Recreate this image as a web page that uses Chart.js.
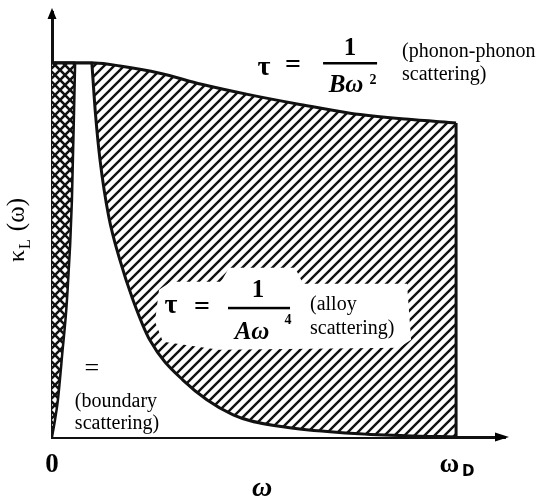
<!DOCTYPE html>
<html lang="en">
<head>
<meta charset="UTF-8">
<title>Spectral lattice thermal conductivity</title>
<script src="https://cdn.jsdelivr.net/npm/chart.js"></script>
<style>
  html, body { margin: 0; padding: 0; background: #fff; }
  #wrap { width: 543px; height: 499px; }
</style>
</head>
<body>
<div id="wrap"><canvas id="kappaChart" width="543" height="499"></canvas></div>
<script>
// omega in % of the drawn axis, kappa_L in % of the axis height
const omegaD = 89.2;
const xTicks = [0, omegaD];
const xTickLabels = ['0', 'ω  '];

// phonon-phonon limited envelope
const ppOmega = [0, 9.5, 15, 23.8, 33, 43.7, 55, 65.8, 78, 89.2];
const ppKappa = [88, 88, 87.3, 85.6, 83, 80.5, 78.2, 76.2, 74.8, 73.9];

// alloy scattering curve
const alloyOmega = [8.8, 9.6, 10.6, 12.5, 15, 17.9, 21.6, 28.9, 40, 51, 65.8, 78, 89.2];
const alloyKappa = [88, 76, 65.2, 52, 41.6, 32.2, 22.8, 13.4, 5.2, 2.4, 0.9, 0.3, 0];

// boundary scattering strip (cross hatched)
const bndOmega = [0, 0.66, 1.3, 2.3, 3.3, 4.4, 5.1];
const bndEdge = [0, 4, 8.7, 20, 32.2, 55.8, 88];

const pts = (xs, ys) => xs.map((x, i) => ({ x: x, y: ys[i] }));

const canvas = document.getElementById('kappaChart');
const ctx = canvas.getContext('2d');

function makeHatch() {
    const c = document.createElement('canvas');
    c.width = 10; c.height = 10;
    const g = c.getContext('2d');
    g.fillStyle = '#fff';
    g.fillRect(0, 0, 10, 10);
    g.strokeStyle = '#111';
    g.lineWidth = 2.4;
    g.beginPath();
    g.moveTo(-3, 13); g.lineTo(13, -3);
    g.moveTo(-3, 3); g.lineTo(3, -3);
    g.moveTo(7, 13); g.lineTo(13, 7);
    g.stroke();
    return ctx.createPattern(c, 'repeat');
}

function makeCross() {
    const c = document.createElement('canvas');
    c.width = 10; c.height = 10;
    const g = c.getContext('2d');
    g.fillStyle = '#fff';
    g.fillRect(0, 0, 10, 10);
    g.strokeStyle = '#111';
    g.lineWidth = 2.6;
    g.beginPath();
    g.moveTo(-3, -3); g.lineTo(13, 13);
    g.moveTo(-3, 13); g.lineTo(13, -3);
    g.stroke();
    return ctx.createPattern(c, 'repeat');
}

const line = { showLine: true, pointRadius: 0, borderColor: '#111', cubicInterpolationMode: 'monotone' };

// labels, axis arrows and the subscripted titles
const notes = {
    id: 'notes',
    afterDatasetsDraw(chart) {
        const X = v => chart.scales.x.getPixelForValue(v);
        const Y = v => chart.scales.y.getPixelForValue(v);
        const c = chart.ctx;
        c.save();
        c.fillStyle = '#000';
        c.textAlign = 'center';
        c.textBaseline = 'middle';

        // white patch behind the alloy formula
        let ax = X(45.7), ay = Y(30.4);
        c.fillStyle = '#fff';
        c.beginPath();
        c.moveTo(ax - 100, ay - 18);
        c.lineTo(ax - 88, ay - 26);
        c.lineTo(ax - 38, ay - 26);
        c.lineTo(ax - 30, ay - 40);
        c.lineTo(ax + 36, ay - 40);
        c.lineTo(ax + 44, ay - 24);
        c.lineTo(ax + 148, ay - 24);
        c.lineTo(ax + 152, ay + 32);
        c.lineTo(ax + 140, ay + 40);
        c.lineTo(ax - 40, ay + 42);
        c.lineTo(ax - 96, ay + 34);
        c.lineTo(ax - 104, ay + 14);
        c.closePath();
        c.fill();
        c.fillStyle = '#000';

        // tau = 1 / (A w^4)
        c.font = 'bold 28px "Liberation Serif"';
        c.fillText('τ', ax - 88, ay - 2);
        c.fillText('=', ax - 57, ay);
        c.fillRect(ax - 31, ay - 1, 62, 2.5);
        c.font = 'bold 25px "Liberation Serif"';
        c.fillText('1', ax - 1, ay - 17);
        c.font = 'bold italic 25px "Liberation Serif"';
        c.fillText('Aω', ax - 7, ay + 25);
        c.font = 'bold 14px "Liberation Serif"';
        c.fillText('4', ax + 29, ay + 13);
        c.font = '20px "Liberation Serif"';
        c.textAlign = 'left';
        c.fillText('(alloy', ax + 51, ay - 3);
        c.fillText('scattering)', ax + 51, ay + 21);

        // tau = 1 / (B w^2)
        let bx = X(65.8), by = Y(88);
        c.textAlign = 'center';
        c.font = 'bold 28px "Liberation Serif"';
        c.fillText('τ', bx - 86, by + 5);
        c.fillText('=', bx - 57, by + 3);
        c.fillRect(bx - 27, by - 1, 54, 2.5);
        c.font = 'bold 25px "Liberation Serif"';
        c.fillText('1', bx, by - 14);
        c.font = 'bold italic 25px "Liberation Serif"';
        c.fillText('Bω', bx - 4, by + 23);
        c.font = 'bold 14px "Liberation Serif"';
        c.fillText('2', bx + 23, by + 17);
        c.font = '20px "Liberation Serif"';
        c.textAlign = 'left';
        c.fillText('(phonon-phonon', bx + 52, by - 11);
        c.fillText('scattering)', bx + 52, by + 12);

        // boundary scattering
        let cx = X(8.8), cy = Y(16);
        c.textAlign = 'center';
        c.font = '26px "Liberation Serif"';
        c.fillText('=', cx, cy);
        c.font = '20px "Liberation Serif"';
        c.textAlign = 'left';
        c.fillText('(boundary', cx - 17, cy + 33);
        c.fillText('scattering)', cx - 17, cy + 55);
        c.restore();
    },
    afterDraw(chart) {
        const X = v => chart.scales.x.getPixelForValue(v);
        const Y = v => chart.scales.y.getPixelForValue(v);
        const c = chart.ctx;
        const x0 = X(0), y0 = Y(0);
        c.save();
        c.fillStyle = '#000';
        // y arrow head
        c.beginPath();
        c.moveTo(x0, Y(100) - 4);
        c.lineTo(x0 + 4.5, Y(100) + 7);
        c.lineTo(x0 - 4.5, Y(100) + 7);
        c.closePath();
        c.fill();
        // x arrow head
        c.beginPath();
        c.moveTo(X(100) + 4, y0);
        c.lineTo(X(100) - 10, y0 - 4.5);
        c.lineTo(X(100) - 10, y0 + 4.5);
        c.closePath();
        c.fill();

        // subscript D of omega_D
        c.font = 'bold 15px "DejaVu Sans"';
        c.textBaseline = 'middle';
        c.textAlign = 'left';
        c.fillText('D', X(omegaD) + 6, 472);

        // x title
        c.textAlign = 'center';
        c.font = 'bold italic 28px "Liberation Serif"';
        c.fillText('ω', X(46.4), 489);

        // y title, rotated
        c.translate(24, 262);
        c.rotate(-Math.PI / 2);
        c.textBaseline = 'alphabetic';
        c.textAlign = 'left';
        c.font = '24px "Liberation Serif"';
        c.fillText('κ', 0, 0);
        let w = c.measureText('κ').width;
        c.font = '16px "Liberation Serif"';
        c.fillText('L', w + 1, 6);
        let w2 = c.measureText('L').width;
        c.font = '25px "Liberation Serif"';
        c.fillText('(ω)', w + w2 + 9, 0);
        c.restore();
    }
};

new Chart(ctx, {
    type: 'scatter',
    data: {
        datasets: [
            // right edge at omega_D
            Object.assign({}, line, { data: pts([omegaD, omegaD], [0, 73.9]), borderWidth: 3, fill: false, order: 1 }),
            // cross hatched strip: top then its edge
            Object.assign({}, line, { data: pts(bndOmega, bndOmega.map(() => 88)), borderWidth: 3,
                fill: '+1', backgroundColor: makeCross(), order: 3 }),
            Object.assign({}, line, { data: pts(bndOmega, bndEdge), borderWidth: 2.5, fill: false, order: 2 }),
            // alloy curve, white underneath
            Object.assign({}, line, { data: pts(alloyOmega, alloyKappa), borderWidth: 3,
                fill: 'origin', backgroundColor: '#fff', order: 4 }),
            // white gap between the strip and the alloy curve
            Object.assign({}, line, { data: pts([0, 9.1], [88, 88]), borderWidth: 3,
                fill: 'origin', backgroundColor: '#fff', order: 5 }),
            // phonon-phonon envelope with diagonal hatching
            Object.assign({}, line, { data: pts(ppOmega, ppKappa), borderWidth: 3,
                fill: 'origin', backgroundColor: makeHatch(), order: 6 })
        ]
    },
    options: {
        responsive: false,
        animation: false,
        devicePixelRatio: 1,
        layout: { padding: { top: 12, right: 38, left: 0, bottom: 0 } },
        plugins: { legend: { display: false }, tooltip: { enabled: false } },
        scales: {
            x: {
                type: 'linear', min: 0, max: 100, z: 1,
                grid: { display: false, drawTicks: false },
                border: { color: '#111', width: 3 },
                afterBuildTicks: s => { s.ticks = xTicks.map(v => ({ value: v })); },
                afterFit: s => { s.height = 62; },
                ticks: {
                    autoSkip: false, maxRotation: 0, padding: 12, color: '#000',
                    font: { family: '"Liberation Serif"', size: 27, weight: 'bold' },
                    callback: (v, i) => xTickLabels[i]
                }
            },
            y: {
                type: 'linear', min: 0, max: 100, z: 1,
                grid: { display: false, drawTicks: false },
                border: { color: '#111', width: 3 },
                ticks: { display: false },
                afterFit: s => { s.width = 52; }
            }
        }
    },
    plugins: [notes]
});
</script>
</body>
</html>
